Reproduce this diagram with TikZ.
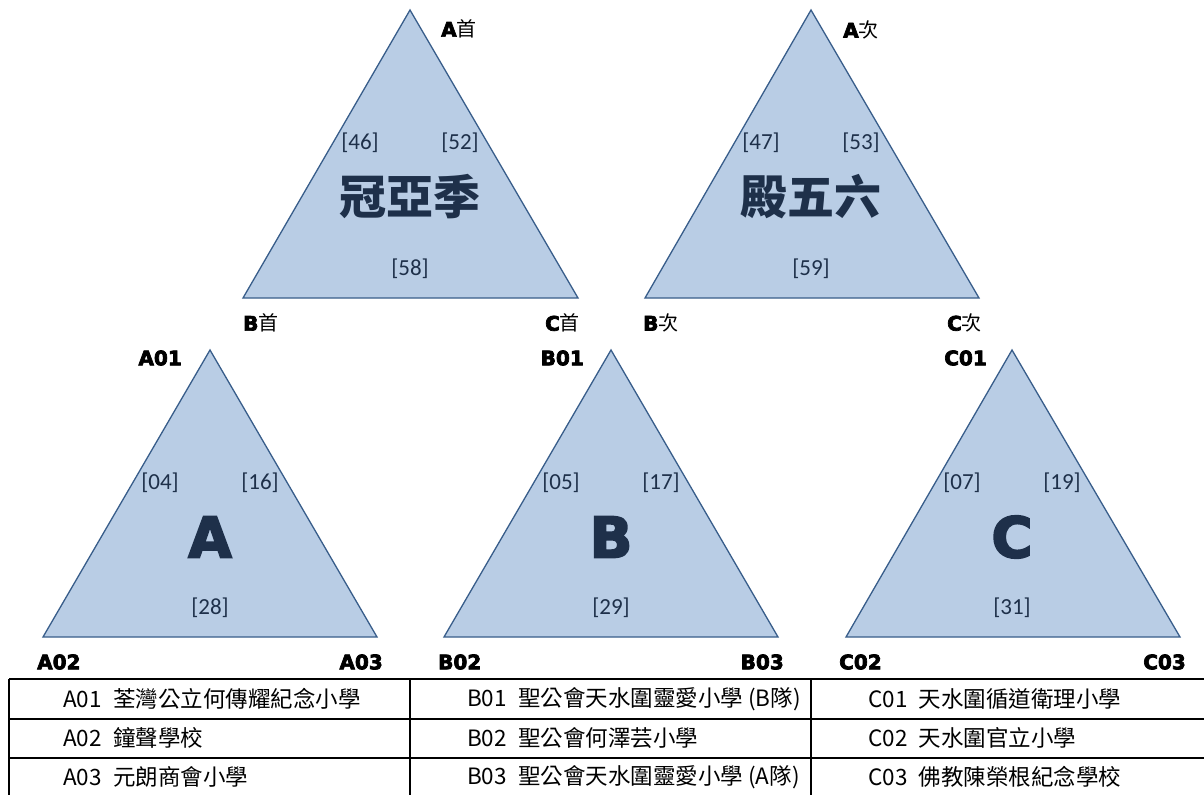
\documentclass[tikz,border=0pt]{standalone}
\usepackage{fontspec}
\setmainfont{Carlito}
\newfontfamily\cjk{Noto Sans CJK TC}
\newfontfamily\heavy{DejaVu Sans Bold}[FakeBold=3.5]
\definecolor{trifill}{HTML}{B9CDE5}
\definecolor{triline}{HTML}{385D8A}
\definecolor{tritext}{RGB}{30,48,74}

\begin{document}
\begin{tikzpicture}[x=1pt,y=-1pt,
  tri/.style={draw=triline,fill=trifill,line width=1.3pt},
  corner/.style={font=\heavy\fontsize{20}{24}\selectfont,inner sep=0pt},
  seat/.style={text=tritext,font=\fontsize{23}{27}\selectfont,inner sep=0pt},
  big/.style={text=tritext,font=\heavy\fontsize{56}{60}\selectfont,inner sep=0pt},
  bigcjk/.style={text=tritext,font=\cjk\bfseries\fontsize{47}{50}\selectfont,inner sep=0pt},
  school/.style={anchor=west,font=\cjk\fontsize{22.5}{26}\selectfont,inner sep=0pt},
  rule/.style={line width=1.2pt}]
\useasboundingbox (0,0) rectangle (1204,795);

% 冠亞季
\coordinate (fA) at (410,10);
\coordinate (fB) at (243,298);
\coordinate (fC) at (578,298);
\draw[tri] (fA) -- (fB) -- (fC) -- cycle;
\node[bigcjk] (final) at (410,197) {冠亞季};
\node[seat] (s46) at (360,143) {[46]};
\node[seat] (s52) at (460,143) {[52]};
\node[seat] (s58) at (410,269) {[58]};
\node[corner,anchor=west] (fAlab) at (441,29) {A{\cjk 首}};
\node[corner,anchor=west] (fBlab) at (243,323) {B{\cjk 首}};
\node[corner,anchor=east] (fClab) at (580,323) {C{\cjk 首}};

% 殿五六
\coordinate (pA) at (811,10);
\coordinate (pB) at (645,298);
\coordinate (pC) at (979,298);
\draw[tri] (pA) -- (pB) -- (pC) -- cycle;
\node[bigcjk] (place) at (811,197) {殿五六};
\node[seat] (s47) at (761,143) {[47]};
\node[seat] (s53) at (861,143) {[53]};
\node[seat] (s59) at (811,269) {[59]};
\node[corner,anchor=west] (pAlab) at (843,30) {A{\cjk 次}};
\node[corner,anchor=west] (pBlab) at (643,323) {B{\cjk 次}};
\node[corner,anchor=east] (pClab) at (982,323) {C{\cjk 次}};

% group A
\coordinate (a1) at (210,350);
\coordinate (a2) at (43,637);
\coordinate (a3) at (377,637);
\draw[tri] (a1) -- (a2) -- (a3) -- cycle;
\node[big] (ga) at (210,537) {A};
\node[seat] (s04) at (160,483) {[04]};
\node[seat] (s16) at (260,483) {[16]};
\node[seat] (s28) at (210,608) {[28]};
\node[corner,anchor=east] (a1lab) at (182,358) {A01};
\node[corner,anchor=west] (a2lab) at (37,662) {A02};
\node[corner,anchor=east] (a3lab) at (383,662) {A03};

% group B
\coordinate (b1) at (611,350);
\coordinate (b2) at (444,637);
\coordinate (b3) at (778,637);
\draw[tri] (b1) -- (b2) -- (b3) -- cycle;
\node[big] (gb) at (611,537) {B};
\node[seat] (s05) at (561,483) {[05]};
\node[seat] (s17) at (661,483) {[17]};
\node[seat] (s29) at (611,608) {[29]};
\node[corner,anchor=east] (b1lab) at (584,358) {B01};
\node[corner,anchor=west] (b2lab) at (438,662) {B02};
\node[corner,anchor=east] (b3lab) at (784,662) {B03};

% group C
\coordinate (c1) at (1012,350);
\coordinate (c2) at (846,637);
\coordinate (c3) at (1180,637);
\draw[tri] (c1) -- (c2) -- (c3) -- cycle;
\node[big] (gc) at (1012,537) {C};
\node[seat] (s07) at (962,483) {[07]};
\node[seat] (s19) at (1062,483) {[19]};
\node[seat] (s31) at (1012,608) {[31]};
\node[corner,anchor=east] (c1lab) at (987,358) {C01};
\node[corner,anchor=west] (c2lab) at (839,662) {C02};
\node[corner,anchor=east] (c3lab) at (1186,662) {C03};

% table
\draw[rule] (9,679) -- (1204,679);
\draw[rule] (9,719) -- (1204,719);
\draw[rule] (9,758) -- (1204,758);
\draw[rule] (9,679) -- (9,795);
\draw[rule] (410,679) -- (410,795);
\draw[rule] (811,679) -- (811,795);

\node[school] (ta1) at (63,699) {A01\enspace 荃灣公立何傳耀紀念小學};
\node[school] (ta2) at (63,738) {A02\enspace 鐘聲學校};
\node[school] (ta3) at (63,777) {A03\enspace 元朗商會小學};
\node[school] (tb1) at (467,699) {B01\enspace 聖公會天水圍靈愛小學 (B隊)};
\node[school] (tb2) at (467,738) {B02\enspace 聖公會何澤芸小學};
\node[school] (tb3) at (467,777) {B03\enspace 聖公會天水圍靈愛小學 (A隊)};
\node[school] (tc1) at (868,699) {C01\enspace 天水圍循道衛理小學};
\node[school] (tc2) at (868,738) {C02\enspace 天水圍官立小學};
\node[school] (tc3) at (868,777) {C03\enspace 佛教陳榮根紀念學校};
\end{tikzpicture}
\end{document}
